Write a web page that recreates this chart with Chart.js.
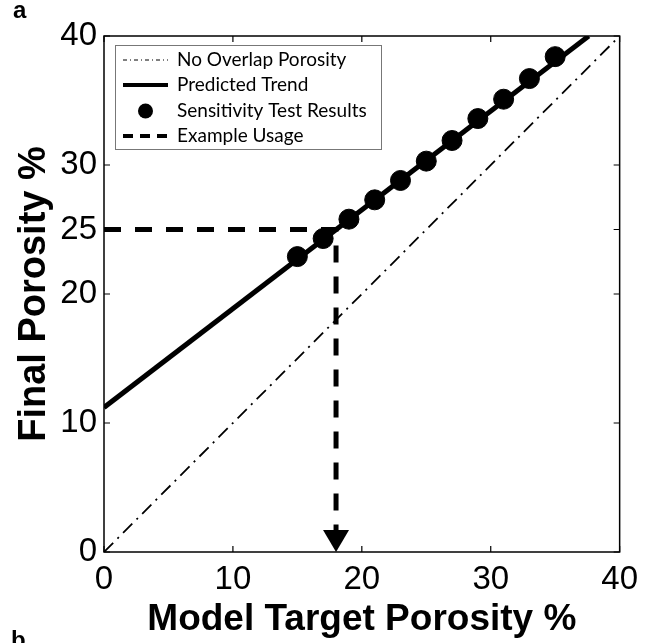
<!DOCTYPE html>
<html lang="en">
<head>
  <meta charset="UTF-8" />
  <title>Final vs Model Target Porosity</title>
  <script src="https://cdn.jsdelivr.net/npm/chart.js"></script>
  <style>
    body {
      margin: 0;
      padding: 0;
      background: #fff;
    }
    .wrap {
      position: relative;
      width: 646px;
      height: 643px;
    }
  </style>
</head>
<body>
  <div class="wrap">
    <canvas id="porosityChart" width="646" height="643"></canvas>
  </div>

  <script>
    // axis ticks
    const xTicks = [0, 10, 20, 30, 40];
    const yTicks = [0, 10, 20, 25, 30, 40];

    // sensitivity test results (model target %, final %)
    const testTarget = [15, 17, 19, 21, 23, 25, 27, 29, 31, 33, 35];
    const testFinal = [22.9, 24.3, 25.8, 27.3, 28.8, 30.3, 31.9, 33.6, 35.1, 36.7, 38.4];

    // predicted trend line
    const trendTarget = [0, 37.6];
    const trendFinal = [11.2, 40];

    // no overlap porosity (1:1)
    const noOverlapTarget = [0, 40];
    const noOverlapFinal = [0, 40];

    // example usage path: read 25% final -> 18% target
    const exampleTarget = [0, 18, 18];
    const exampleFinal = [25, 25, 1.6];
    const arrowTarget = 18;

    const legendLabels = ['No Overlap Porosity', 'Predicted Trend', 'Sensitivity Test Results', 'Example Usage'];

    const toPoints = (xs, ys) => xs.map((x, i) => ({ x: x, y: ys[i] }));

    const tickFont = { family: "'Liberation Sans', Arial, sans-serif", size: 33 };
    const xTitleFont = { family: "'Liberation Sans', Arial, sans-serif", size: 37, weight: 'bold' };
    const yTitleFont = { family: "'Liberation Sans', Arial, sans-serif", size: 38, weight: 'bold' };

    // inward ticks on all 4 sides, full frame, arrow head, legend box, panel letters
    const decorations = {
      id: 'decorations',
      afterDatasetsDraw(chart) {
        const { ctx, chartArea: a, scales: { x, y } } = chart;
        ctx.save();

        // arrow head at the bottom of the example line
        const ax = x.getPixelForValue(arrowTarget);
        const ay = y.getPixelForValue(0);
        ctx.fillStyle = '#000';
        ctx.beginPath();
        ctx.moveTo(ax, ay);
        ctx.lineTo(ax - 13, ay - 22);
        ctx.lineTo(ax + 13, ay - 22);
        ctx.closePath();
        ctx.fill();

        // frame
        ctx.strokeStyle = '#000';
        ctx.lineWidth = 1.5;
        ctx.strokeRect(a.left, a.top, a.right - a.left, a.bottom - a.top);

        // ticks
        ctx.lineWidth = 1.2;
        ctx.beginPath();
        xTicks.forEach(v => {
          const px = x.getPixelForValue(v);
          ctx.moveTo(px, a.bottom); ctx.lineTo(px, a.bottom - 6);
          ctx.moveTo(px, a.top); ctx.lineTo(px, a.top + 6);
        });
        yTicks.forEach(v => {
          const py = y.getPixelForValue(v);
          ctx.moveTo(a.left, py); ctx.lineTo(a.left + 6, py);
          ctx.moveTo(a.right, py); ctx.lineTo(a.right - 6, py);
        });
        ctx.stroke();

        // legend
        const lx = 115, ly = 45, lw = 266, lh = 104;
        ctx.fillStyle = '#fff';
        ctx.fillRect(lx, ly, lw, lh);
        ctx.strokeStyle = '#777';
        ctx.lineWidth = 1;
        ctx.strokeRect(lx + 0.5, ly + 0.5, lw, lh);

        const rows = [60, 85, 111, 136];
        const sx0 = 123, sx1 = 168;
        ctx.strokeStyle = '#000';
        ctx.fillStyle = '#000';

        ctx.lineWidth = 1;
        ctx.setLineDash([4, 3, 1, 3]);
        ctx.beginPath(); ctx.moveTo(sx0, rows[0]); ctx.lineTo(sx1, rows[0]); ctx.stroke();

        ctx.lineWidth = 4;
        ctx.setLineDash([]);
        ctx.beginPath(); ctx.moveTo(sx0, rows[1]); ctx.lineTo(sx1, rows[1]); ctx.stroke();

        ctx.beginPath(); ctx.arc((sx0 + sx1) / 2, rows[2], 7.5, 0, Math.PI * 2); ctx.fill();

        ctx.setLineDash([10, 7]);
        ctx.beginPath(); ctx.moveTo(sx0, rows[3]); ctx.lineTo(sx1, rows[3]); ctx.stroke();
        ctx.setLineDash([]);

        ctx.font = "19px Lato, 'Open Sans', sans-serif";
        ctx.textBaseline = 'middle';
        ctx.textAlign = 'left';
        legendLabels.forEach((t, i) => ctx.fillText(t, 177, rows[i]));

        // panel letters
        ctx.font = "bold 24px 'Liberation Sans', Arial, sans-serif";
        ctx.textBaseline = 'alphabetic';
        ctx.fillText('a', 13, 18);
        ctx.fillText('b', 11, 648);

        ctx.restore();
      }
    };

    new Chart(document.getElementById('porosityChart'), {
      type: 'scatter',
      data: {
        datasets: [
          {
            label: legendLabels[2],
            data: toPoints(testTarget, testFinal),
            pointRadius: 10,
            pointHoverRadius: 10,
            backgroundColor: '#000',
            borderColor: '#000',
            showLine: false,
            order: 0
          },
          {
            label: legendLabels[1],
            data: toPoints(trendTarget, trendFinal),
            showLine: true,
            borderColor: '#000',
            borderWidth: 5,
            pointRadius: 0,
            order: 2
          },
          {
            label: legendLabels[0],
            data: toPoints(noOverlapTarget, noOverlapFinal),
            showLine: true,
            borderColor: '#000',
            borderWidth: 1.8,
            borderDash: [13, 6, 2, 6],
            pointRadius: 0,
            order: 3
          },
          {
            label: legendLabels[3],
            data: toPoints(exampleTarget, exampleFinal),
            showLine: true,
            borderColor: '#000',
            borderWidth: 5,
            borderDash: [17, 14],
            borderCapStyle: 'butt',
            pointRadius: 0,
            order: 1
          }
        ]
      },
      options: {
        responsive: false,
        animation: false,
        layout: { padding: { left: 12, right: 23, top: 36, bottom: 0 } },
        plugins: {
          legend: { display: false },
          tooltip: { enabled: false }
        },
        scales: {
          x: {
            type: 'linear',
            min: 0,
            max: 40,
            afterBuildTicks: s => { s.ticks = xTicks.map(v => ({ value: v })); },
            afterFit: s => { s.height = 91; },
            grid: { display: false, drawTicks: false },
            border: { display: false },
            ticks: { color: '#000', font: tickFont, padding: 8, maxRotation: 0 },
            title: {
              display: true,
              text: 'Model Target Porosity %',
              color: '#000',
              font: xTitleFont,
              padding: { top: 0, bottom: 1 }
            }
          },
          y: {
            type: 'linear',
            min: 0,
            max: 40,
            afterBuildTicks: s => { s.ticks = yTicks.map(v => ({ value: v })); },
            afterFit: s => { s.width = 92; },
            grid: { display: false, drawTicks: false },
            border: { display: false },
            ticks: { color: '#000', font: tickFont, padding: 7 },
            title: {
              display: true,
              text: 'Final Porosity %',
              color: '#000',
              font: yTitleFont,
              padding: { top: 0, bottom: 0 }
            }
          }
        }
      },
      plugins: [decorations]
    });
  </script>
</body>
</html>
